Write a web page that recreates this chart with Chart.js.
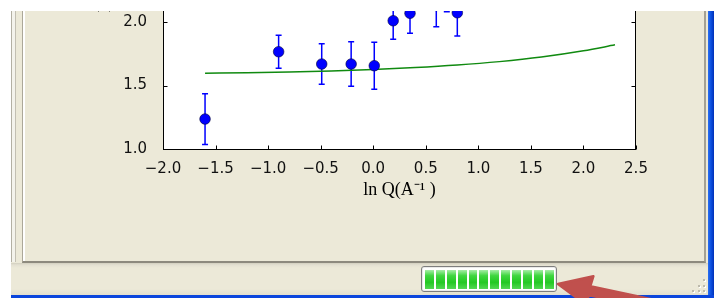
<!DOCTYPE html>
<html>
<head>
<meta charset="utf-8">
<script src="https://cdn.jsdelivr.net/npm/chart.js@4.4.0/dist/chart.umd.min.js"></script>
<style>
    html, body { margin: 0; padding: 0; }
    body { width: 718px; height: 298px; overflow: hidden; position: relative; background: #fff; }
    .abs { position: absolute; }
    #janela { left: 11px; top: 0; width: 697px; height: 295px; background: #ece9d8; }
    #linha1 { left: 11px; top: 0; width: 1px; height: 262px; background: #b3b0a3; }
    #linha1b { left: 12px; top: 0; width: 3px; height: 262px; background: #f4f3ec; }
    #linha2 { left: 15px; top: 0; width: 1px; height: 262px; background: #c2bfb2; }
    #painel { left: 22px; top: 0; width: 681px; height: 261px; background: #ece9d8;
              border-left: 1px solid #aca899; border-right: 2px solid #a4a194; border-bottom: 2px solid #8d8a7e;
              box-shadow: inset 2px 0 0 #fff; }
    #status { left: 11px; top: 263px; width: 697px; height: 32px;
              background: linear-gradient(#d2cfbf 0, #e4e1d2 2px, #ece9d8 5px, #ece9d8 26px, #e2dfcf 32px); }
    #azulDir { left: 708px; top: 0; width: 6px; height: 298px;
               background: linear-gradient(to right, #2a6ff0, #0b4fe0 50%, #0030b8); }
    #azulBaixo { left: 11px; top: 295px; width: 703px; height: 3px; background: #0a45dc; }
    #tiraBranca { left: 0; top: 0; width: 718px; height: 11px; background: #fff; z-index: 10; }
    #grafico { position: absolute; left: 0; top: -200px; width: 718px; height: 498px; z-index: 2; }
    #progresso { left: 421px; top: 266px; width: 134px; height: 24px; border: 1px solid #7d7d7d;
                 border-radius: 3px; background: #fff; z-index: 3; box-shadow: inset 0 0 0 1px #e9e9e9; }
    #blocos { position: absolute; left: 3px; top: 3px; display: flex; gap: 2px; }
    #blocos span { display: block; width: 8.9px; height: 19px;
                   background: linear-gradient(#a6eea6, #3fd63f 30%, #22c822 65%, #52d852); }
    .ponto { width: 2px; height: 2px; background: #bdbaac; box-shadow: 1px 1px 0 #fff; z-index: 3; }
    #seta { left: 0; top: 0; z-index: 4; }
</style>
</head>
<body>
<div class="abs" id="janela"></div>
<div class="abs" id="linha1"></div>
<div class="abs" id="linha1b"></div>
<div class="abs" id="linha2"></div>
<div class="abs" id="painel"></div>
<div class="abs" id="status"></div>
<div class="abs" id="azulDir"></div>
<div class="abs" id="azulBaixo"></div>

<canvas id="grafico" width="718" height="498"></canvas>

<div class="abs" id="progresso"><div id="blocos"></div></div>
<div class="abs ponto" style="left:703px;top:279px"></div>
<div class="abs ponto" style="left:698px;top:285px"></div>
<div class="abs ponto" style="left:703px;top:285px"></div>
<div class="abs ponto" style="left:692px;top:290px"></div>
<div class="abs ponto" style="left:698px;top:290px"></div>
<div class="abs ponto" style="left:703px;top:290px"></div>

<svg class="abs" id="seta" width="718" height="298">
    <g transform="translate(558,284) rotate(12)">
        <polygon points="0,0 33,-15 32,-4.5 120,-4.5 120,4.5 32,4.5 33,15"
                 fill="#c0504d" stroke="#c0504d" stroke-width="2.5" stroke-linejoin="round"/>
    </g>
</svg>

<div class="abs" id="tiraBranca"></div>

<script>
// Dados (pontos com barra de erro)
const valoresX = [-1.60, -0.90, -0.49, -0.21, 0.01, 0.19, 0.35, 0.60, 0.70, 0.80];
const valoresY = [1.236, 1.766, 1.669, 1.669, 1.656, 2.010, 2.069, 2.130, 2.250, 2.073];
const errosY = [0.200, 0.130, 0.160, 0.175, 0.185, 0.145, 0.158, 0.167, 0.170, 0.183];

// Curva de ajuste (verde)
const ajusteX = [-1.6, -1.2, -0.8, -0.4, 0.0, 0.4, 0.8, 1.2, 1.6, 2.0, 2.3];
const ajusteY = [1.596, 1.601, 1.607, 1.615, 1.626, 1.641, 1.661, 1.688, 1.724, 1.773, 1.820];

// Marcas dos eixos
const ticksX = [-2.0, -1.5, -1.0, -0.5, 0.0, 0.5, 1.0, 1.5, 2.0, 2.5];
const ticksY = [1.0, 1.5, 2.0, 2.5, 3.0, 3.5];

// Blocos verdes da barra de progresso
const blocos = document.getElementById('blocos');
for (let i = 0; i < 12; i++) {
    blocos.appendChild(document.createElement('span'));
}

const formatar = v => v.toFixed(1).replace('-', '\u2212');

const fundoBranco = {
    id: 'fundoBranco',
    beforeDraw(chart) {
        const { ctx, chartArea: a } = chart;
        ctx.save();
        ctx.fillStyle = '#ffffff';
        ctx.fillRect(a.left, a.top, a.right - a.left, a.bottom - a.top);
        ctx.restore();
    }
};

const barrasErro = {
    id: 'barrasErro',
    beforeDatasetsDraw(chart) {
        const { ctx, scales: { x, y } } = chart;
        ctx.save();
        ctx.strokeStyle = '#0000ff';
        ctx.lineWidth = 1.5;
        valoresX.forEach((vx, i) => {
            const px = x.getPixelForValue(vx);
            const topo = y.getPixelForValue(valoresY[i] + errosY[i]);
            const base = y.getPixelForValue(valoresY[i] - errosY[i]);
            ctx.beginPath();
            ctx.moveTo(px, topo); ctx.lineTo(px, base);
            ctx.moveTo(px - 3, topo); ctx.lineTo(px + 3, topo);
            ctx.moveTo(px - 3, base); ctx.lineTo(px + 3, base);
            ctx.stroke();
        });
        ctx.restore();
    }
};

// Moldura e marcas para dentro, como no matplotlib
const moldura = {
    id: 'moldura',
    afterDraw(chart) {
        const { ctx, chartArea: a, scales: { x, y } } = chart;
        const l = Math.round(a.left) + 0.5, r = Math.round(a.right) - 0.5;
        const t = Math.round(a.top) + 0.5, b = Math.round(a.bottom) + 0.5;
        ctx.save();
        ctx.strokeStyle = '#000';
        ctx.lineWidth = 1;
        ctx.strokeRect(l, t, r - l, b - t);
        ctx.beginPath();
        ticksX.forEach(v => {
            const p = Math.round(x.getPixelForValue(v)) + 0.5;
            ctx.moveTo(p, b); ctx.lineTo(p, b - 4);
            ctx.moveTo(p, t); ctx.lineTo(p, t + 4);
        });
        ticksY.forEach(v => {
            const p = Math.round(y.getPixelForValue(v)) + 0.5;
            ctx.moveTo(l, p); ctx.lineTo(l + 4, p);
            ctx.moveTo(r, p); ctx.lineTo(r - 4, p);
        });
        ctx.stroke();
        ctx.restore();
    }
};

const ctx = document.getElementById('grafico').getContext('2d');
new Chart(ctx, {
    type: 'scatter',
    data: {
        datasets: [{
            data: valoresX.map((vx, i) => ({ x: vx, y: valoresY[i] })),
            backgroundColor: '#0000ff',
            borderColor: '#00003a',
            borderWidth: 0.6,
            pointRadius: 5.3,
            order: 1
        }, {
            type: 'line',
            data: ajusteX.map((vx, i) => ({ x: vx, y: ajusteY[i] })),
            borderColor: '#108a10',
            borderWidth: 1.5,
            pointRadius: 0,
            cubicInterpolationMode: 'monotone',
            fill: false,
            order: 2
        }]
    },
    options: {
        responsive: false,
        devicePixelRatio: 1,
        animation: false,
        layout: { padding: { left: 0, right: 82, top: 31.5, bottom: 0 } },
        plugins: { legend: { display: false }, tooltip: { enabled: false } },
        scales: {
            x: {
                type: 'linear',
                min: -2.0,
                max: 2.5,
                afterBuildTicks: s => { s.ticks = ticksX.map(v => ({ value: v })); },
                afterFit: s => { s.height = 149; },
                grid: { display: false },
                border: { display: false },
                ticks: {
                    padding: 3, maxRotation: 0, autoSkip: false,
                    color: '#111', font: { family: 'DejaVu Sans', size: 15 },
                    callback: formatar
                },
                title: {
                    display: true,
                    text: 'ln Q(A\u207B\u00B9 )',
                    color: '#000',
                    font: { family: 'Liberation Serif', size: 18 },
                    padding: { top: 0, bottom: 97 }
                }
            },
            y: {
                type: 'linear',
                min: 1.0,
                max: 3.5,
                afterBuildTicks: s => { s.ticks = ticksY.map(v => ({ value: v })); },
                afterFit: s => { s.width = 163; },
                grid: { display: false },
                border: { display: false },
                ticks: {
                    padding: 8, autoSkip: false,
                    color: '#111', font: { family: 'DejaVu Sans', size: 15 },
                    callback: formatar
                },
                title: {
                    display: true,
                    text: 'ln I(Q)',
                    color: '#000',
                    font: { family: 'Liberation Serif', size: 16 },
                    padding: { top: 96, bottom: 0 }
                }
            }
        }
    },
    plugins: [fundoBranco, barrasErro, moldura]
});
</script>
</body>
</html>
